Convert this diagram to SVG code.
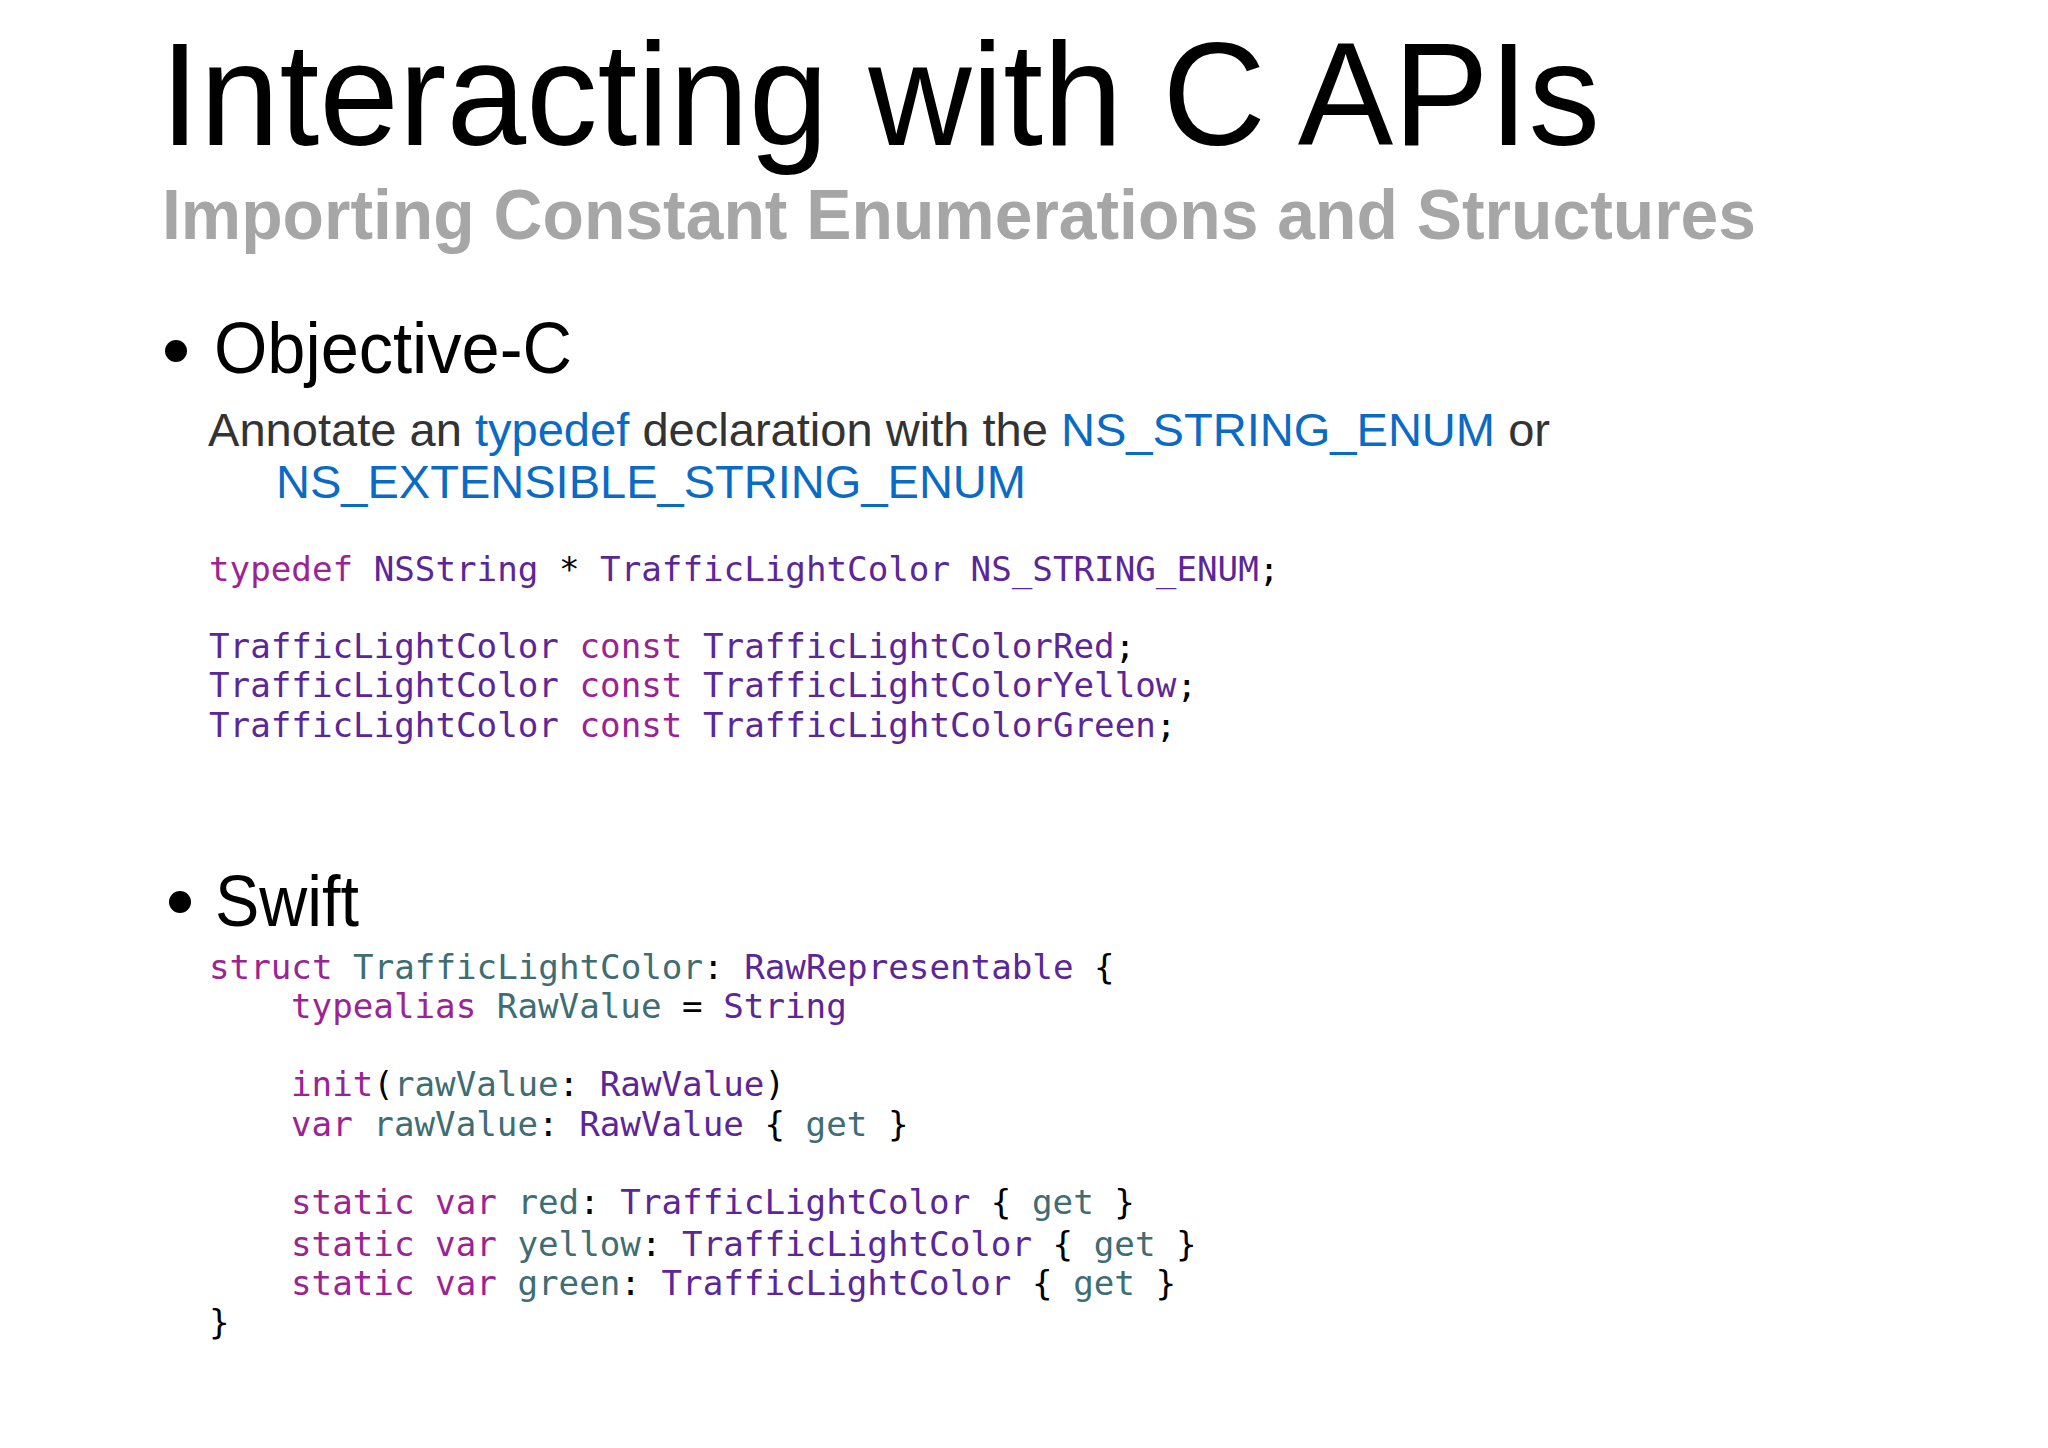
<svg xmlns="http://www.w3.org/2000/svg" width="2048" height="1448" viewBox="0 0 2048 1448">
<style>
.t{font-family:"Liberation Sans",Arial,sans-serif}
.c{font-family:"DejaVu Sans Mono",monospace;font-size:34.2px;fill:#000}
.k{fill:#9b2393}.p{fill:#5c2699}.g{fill:#3e6d74}.b{fill:#0b6bc4}
</style>
<rect width="2048" height="1448" fill="#fff"/>
<g id="title">
<text class="t" x="160" y="145" font-size="146" textLength="1440" lengthAdjust="spacingAndGlyphs">Interacting with C APIs</text>
<text class="t" x="162" y="239" font-size="70" font-weight="bold" fill="#a6a6a6" textLength="1594" lengthAdjust="spacingAndGlyphs">Importing Constant Enumerations and Structures</text>
</g>
<g id="objc">
<circle cx="176" cy="351" r="11"/>
<text class="t" x="214" y="373" font-size="72" textLength="358" lengthAdjust="spacingAndGlyphs">Objective-C</text>
<text class="t" x="208" y="446" font-size="46" fill="#333" textLength="1342" lengthAdjust="spacingAndGlyphs">Annotate an <tspan class="b">typedef</tspan> declaration with the <tspan class="b">NS_STRING_ENUM</tspan> or</text>
<text class="t b" x="276" y="498" font-size="46" textLength="750" lengthAdjust="spacingAndGlyphs">NS_EXTENSIBLE_STRING_ENUM</text>
<text class="c" xml:space="preserve"><tspan x="209" y="581"><tspan class="k">typedef</tspan> <tspan class="p">NSString</tspan> * <tspan class="p">TrafficLightColor NS_STRING_ENUM</tspan>;</tspan><tspan x="209" y="658"><tspan class="p">TrafficLightColor</tspan> <tspan class="k">const</tspan> <tspan class="p">TrafficLightColorRed</tspan>;</tspan><tspan x="209" y="697"><tspan class="p">TrafficLightColor</tspan> <tspan class="k">const</tspan> <tspan class="p">TrafficLightColorYellow</tspan>;</tspan><tspan x="209" y="737"><tspan class="p">TrafficLightColor</tspan> <tspan class="k">const</tspan> <tspan class="p">TrafficLightColorGreen</tspan>;</tspan></text>
</g>
<g id="swift">
<circle cx="180" cy="902" r="11"/>
<text class="t" x="215" y="926" font-size="72" textLength="144" lengthAdjust="spacingAndGlyphs">Swift</text>
<text class="c" xml:space="preserve"><tspan x="209" y="979"><tspan class="k">struct</tspan> <tspan class="g">TrafficLightColor</tspan>: <tspan class="p">RawRepresentable</tspan> {</tspan><tspan x="291" y="1018"><tspan class="k">typealias</tspan> <tspan class="g">RawValue</tspan> = <tspan class="p">String</tspan></tspan><tspan x="291" y="1096"><tspan class="k">init</tspan>(<tspan class="g">rawValue</tspan>: <tspan class="p">RawValue</tspan>)</tspan><tspan x="291" y="1136"><tspan class="k">var</tspan> <tspan class="g">rawValue</tspan>: <tspan class="p">RawValue</tspan> { <tspan class="g">get</tspan> }</tspan><tspan x="291" y="1214"><tspan class="k">static var</tspan> <tspan class="g">red</tspan>: <tspan class="p">TrafficLightColor</tspan> { <tspan class="g">get</tspan> }</tspan><tspan x="291" y="1256"><tspan class="k">static var</tspan> <tspan class="g">yellow</tspan>: <tspan class="p">TrafficLightColor</tspan> { <tspan class="g">get</tspan> }</tspan><tspan x="291" y="1295"><tspan class="k">static var</tspan> <tspan class="g">green</tspan>: <tspan class="p">TrafficLightColor</tspan> { <tspan class="g">get</tspan> }</tspan><tspan x="209" y="1334">}</tspan></text>
</g>
</svg>
